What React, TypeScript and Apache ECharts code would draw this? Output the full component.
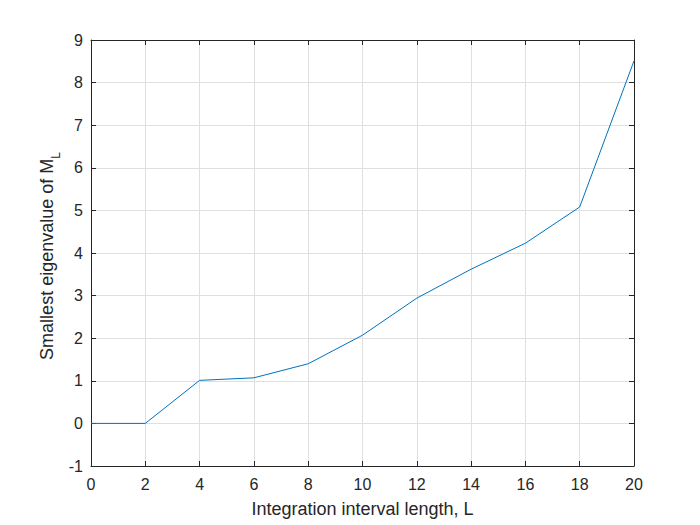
import React, { useEffect, useRef } from "react";
import * as echarts from "echarts";

const xValues = [0, 2, 4, 6, 8, 10, 12, 14, 16, 18, 20];
const eigenValues = [0, 0, 1.01, 1.07, 1.4, 2.07, 2.94, 3.62, 4.23, 5.08, 8.51];
const xLabel = "Integration interval length, L";
const yLabelMain = "Smallest eigenvalue of M";
const yLabelSub = "L";

const axisColor = "#262626";
const font = "'Liberation Sans', Arial, Helvetica, sans-serif";
const labelSize = 18;
const subSize = 12;
const tickSize = 16;

function measure(text: string, size: number): number {
  const c = document.createElement("canvas").getContext("2d");
  if (!c) return text.length * size * 0.5;
  c.font = `${size}px ${font}`;
  return c.measureText(text).width;
}

export default function App() {
  const ref = useRef<HTMLDivElement>(null);
  useEffect(() => {
    if (!ref.current) return;
    const chart = echarts.init(ref.current, undefined, { renderer: "svg" });
    const baseX = {
      type: "value" as const,
      min: 0,
      max: 20,
      interval: 2,
      axisLine: { show: true, onZero: false, lineStyle: { color: axisColor, width: 1 } },
      axisTick: { show: true, inside: true, length: 5, lineStyle: { color: axisColor } },
    };
    const baseY = {
      type: "value" as const,
      min: -1,
      max: 9,
      interval: 1,
      axisLine: { show: true, onZero: false, lineStyle: { color: axisColor, width: 1 } },
      axisTick: { show: true, inside: true, length: 5, lineStyle: { color: axisColor } },
    };
    const mainW = measure(yLabelMain, labelSize);
    const subW = measure(yLabelSub, subSize);
    const totalW = mainW + subW;
    const centerY = 256;
    chart.setOption({
      animation: false,
      backgroundColor: "#ffffff",
      textStyle: { fontFamily: font },
      grid: { left: 91, right: 66, top: 40, bottom: 59, containLabel: false },
      graphic: [
        {
          type: "group",
          x: 47,
          y: centerY + totalW / 2,
          rotation: Math.PI / 2,
          children: [
            {
              type: "text",
              x: 0,
              y: 0,
              style: {
                text: yLabelMain,
                fontSize: labelSize,
                fontFamily: font,
                fill: axisColor,
                textAlign: "left",
                textVerticalAlign: "middle",
              },
            },
            {
              type: "text",
              x: mainW,
              y: 9,
              style: {
                text: yLabelSub,
                fontSize: subSize,
                fontFamily: font,
                fill: axisColor,
                textAlign: "left",
                textVerticalAlign: "middle",
              },
            },
          ],
        },
      ],
      xAxis: [
        {
          ...baseX,
          position: "bottom",
          name: xLabel,
          nameLocation: "middle",
          nameGap: 34,
          nameTextStyle: { fontSize: labelSize, color: axisColor, fontFamily: font },
          axisLabel: { show: true, fontSize: tickSize, color: axisColor, margin: 10, fontFamily: font },
          splitLine: { show: true, lineStyle: { color: "#dfdfdf", width: 1 } },
        },
        {
          ...baseX,
          position: "top",
          axisLabel: { show: false },
          splitLine: { show: false },
        },
      ],
      yAxis: [
        {
          ...baseY,
          position: "left",
          axisLabel: { show: true, fontSize: tickSize, color: axisColor, margin: 8, fontFamily: font },
          splitLine: { show: true, lineStyle: { color: "#dfdfdf", width: 1 } },
        },
        {
          ...baseY,
          position: "right",
          axisLabel: { show: false },
          splitLine: { show: false },
        },
      ],
      series: [
        {
          type: "line",
          data: xValues.map((x, i) => [x, eigenValues[i]]),
          xAxisIndex: 0,
          yAxisIndex: 0,
          showSymbol: false,
          symbol: "none",
          lineStyle: { color: "#0072BD", width: 1 },
          itemStyle: { color: "#0072BD" },
        },
      ],
    });
    return () => chart.dispose();
  }, []);
  return (
    <div
      ref={ref}
      style={{ position: "fixed", left: 0, top: 0, width: 700, height: 525, background: "#fff" }}
    />
  );
}
